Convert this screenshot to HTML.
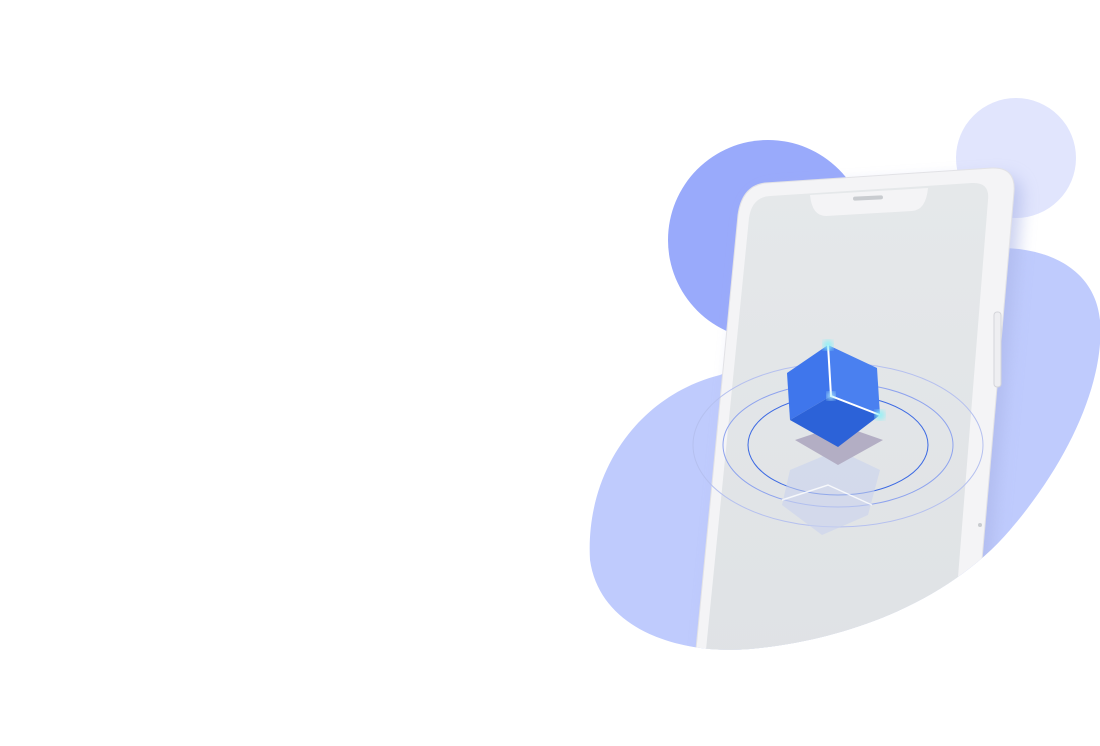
<!DOCTYPE html>
<html><head><meta charset="utf-8"><style>
html,body{margin:0;padding:0;background:#fff;width:1100px;height:746px;overflow:hidden}
svg{display:block}
</style></head><body>
<svg width="1100" height="746" viewBox="0 0 1100 746" xmlns="http://www.w3.org/2000/svg">
<defs>
<clipPath id="cl">
<path d="M560,0 L1100,0 L1100,300 C1105,380 1070,460 1010,530 C950,600 850,640 750,649 C680,655 600,630 590,560 L560,0 Z"/>
</clipPath>
<linearGradient id="scr" x1="0" y1="0" x2="0" y2="1">
<stop offset="0" stop-color="#e5e8ea"/><stop offset="1" stop-color="#dfe2e5"/>
</linearGradient>
<filter id="sh" x="-20%" y="-20%" width="140%" height="140%"><feGaussianBlur stdDeviation="8"/></filter>
<filter id="gl"><feGaussianBlur stdDeviation="3"/></filter>
</defs>
<circle cx="1016" cy="158" r="60" fill="#e1e5fd"/>
<circle cx="768" cy="240" r="100" fill="#99aafb"/>
<path d="M720,375 C640,395 585,470 590,560 C600,630 680,655 750,649 C850,640 950,600 1010,530 C1070,460 1105,380 1100,320 C1095,270 1050,248 1000,248 L900,300 Z" fill="#bfcbfd"/>
<g clip-path="url(#cl)">
<path d="M765,183 L992,168 Q1016,167 1014,192 L975,640 L693,680 L738,215 Q742,186 765,183 Z" fill="#a9b3e6" filter="url(#sh)" opacity="0.6" transform="translate(8,8)"/>
<path d="M765,183 L992,168 Q1016,167 1014,192 L975,640 L693,680 L738,215 Q742,186 765,183 Z" fill="#f4f4f6" stroke="#e2e2e6" stroke-width="1"/>
<path d="M770,196 L972,183 Q990,182 988,200 L953,640 L703,680 L749,218 Q752,197 770,196 Z" fill="url(#scr)"/>
<path d="M810,195 L928,188 Q926,210 912,211 L826,216 Q812,216 810,195 Z" fill="#f4f4f6"/>
<rect x="853" y="196" width="30" height="4" rx="2" fill="#c9ccd0" transform="rotate(-3 868 198)"/>
<rect x="994" y="312" width="7" height="75" rx="3" fill="#eeeef1" stroke="#d4d5da"/>
<circle cx="980" cy="525" r="2" fill="#c9ccd0"/>
</g>
<ellipse cx="838" cy="445" rx="145" ry="82" fill="none" stroke="#b5c0ef" stroke-width="1"/>
<ellipse cx="838" cy="445" rx="115" ry="62" fill="none" stroke="#8ea3ee" stroke-width="1"/>
<ellipse cx="838" cy="445" rx="90" ry="50" fill="none" stroke="#3d6ae3" stroke-width="1"/>
<polygon points="790,470 838,450 880,470 868,515 822,535 782,505" fill="#c9d2ee" opacity="0.6"/>
<polyline points="782,500 828,485 872,505" fill="none" stroke="#fff" stroke-width="1.5" opacity="0.8"/>
<polygon points="795,440 840,425 883,440 838,465" fill="#b3aec4"/>
<polygon points="787,373 828,345 831,396 790,420" fill="#3f76ec"/>
<polygon points="828,345 877,368 880,415 831,396" fill="#4a80f0"/>
<polygon points="831,396 880,415 838,447 790,420" fill="#2c62d8"/>
<polyline points="828,345 831,396 880,415" fill="none" stroke="#fff" stroke-width="2"/>
<circle cx="828" cy="345" r="5" fill="#8ff0f6" filter="url(#gl)"/>
<circle cx="831" cy="396" r="4" fill="#b8f6ff" filter="url(#gl)"/>
<circle cx="880" cy="415" r="5" fill="#8ff0f6" filter="url(#gl)"/>
</svg>
</body></html>
